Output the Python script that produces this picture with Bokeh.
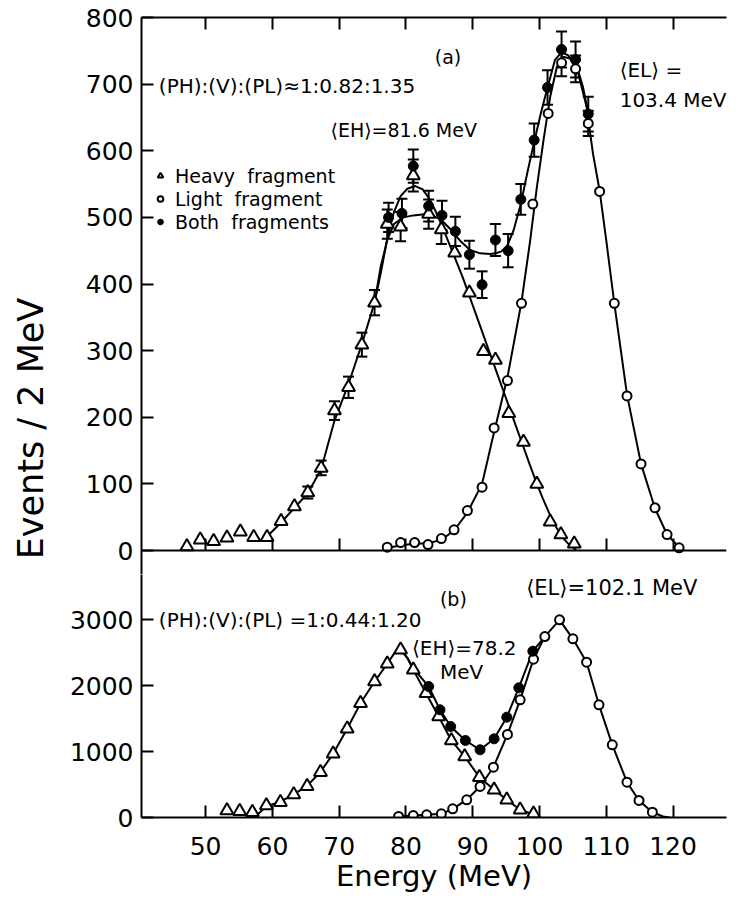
from bokeh.plotting import figure
from bokeh.layouts import row, column
from bokeh.models import (Range1d, FixedTicker, LinearAxis, Whisker, TeeHead,
                          ColumnDataSource, Legend, LegendItem, Label)
from bokeh.embed import file_html
from bokeh.resources import INLINE

FONT = "DejaVu Sans"

# ---------------- tick labels ----------------
x_ticks = [50, 60, 70, 80, 90, 100, 110, 120]
ya_ticks = [0, 100, 200, 300, 400, 500, 600, 700, 800]
yb_ticks = [0, 1000, 2000, 3000]

# ---------------- panel (a) data ----------------
a_heavy_E = [47.2, 49.2, 51.2, 53.2, 55.2, 57.2, 59.2, 61.3, 63.3, 65.3, 67.3, 69.3, 71.4, 73.4, 75.3,
             77.2, 79.2, 81.1, 83.4, 85.3, 87.3, 89.5, 91.6, 93.4, 95.4, 97.6, 99.6, 101.6, 103.2, 105.2]
a_heavy_N = [6, 16, 14, 19, 28, 20, 20, 44, 66, 87, 124, 210, 245, 309, 372,
             490, 486, 563, 505, 482, 447, 387, 299, 286, 206, 163, 100, 43, 24, 10]
a_heavy_err = [0, 0, 0, 0, 0, 0, 0, 0, 0, 9, 11, 14, 16, 18, 19,
               22, 22, 24, 22, 22, 0, 0, 0, 0, 0, 0, 0, 0, 0, 0]

a_light_E = [77.2, 79.2, 81.3, 83.3, 85.3, 87.2, 89.2, 91.4, 93.2, 95.2, 97.3, 99.0, 101.3, 103.3,
             105.4, 107.3, 109.0, 111.2, 113.1, 115.2, 117.3, 119.1, 120.9]
a_light_N = [5, 12, 12, 9, 18, 31, 60, 95, 184, 255, 371, 520, 656, 732,
             723, 641, 539, 371, 232, 130, 64, 24, 4]
a_light_err = [0, 0, 0, 0, 0, 0, 0, 0, 0, 0, 0, 0, 0, 20,
               20, 19, 0, 0, 0, 0, 0, 0, 0]

a_both_E = [77.4, 79.4, 81.1, 83.4, 85.4, 87.4, 89.5, 91.4, 93.4, 95.3, 97.2, 99.2, 101.2, 103.3, 105.4, 107.3]
a_both_N = [500, 506, 577, 517, 503, 479, 444, 399, 466, 450, 527, 616, 695, 752, 737, 655]
a_both_err = [22, 22, 25, 23, 22, 22, 21, 20, 24, 25, 23, 25, 26, 27, 27, 26]

a_heavy_fit_E = [59.1, 61.3, 63.3, 65.3, 67.3, 69.3, 71.4, 73.4, 75.3, 76.3, 77.2, 78.2, 79.2, 80.2, 81.4,
                 82.5, 83.5, 84.5, 85.5, 86.5, 87.5, 88.5, 89.5, 90.5, 91.5, 92.5, 93.5, 94.5, 95.5,
                 96.5, 97.5, 98.5, 99.5, 100.5, 101.5, 102.5, 103.5, 104.5, 105.5]
a_heavy_fit_N = [20, 42, 64, 86, 122, 195, 250, 310, 372, 420, 468, 508, 532, 543, 547,
                 542, 528, 508, 485, 460, 435, 410, 382, 354, 326, 298, 270, 242, 214,
                 186, 158, 130, 103, 78, 55, 35, 19, 8, 1]

a_both_fit_E = [75.3, 76.2, 77.2, 78.2, 79.6, 81.1, 83.1, 85.1, 86.6, 88.1, 89.6, 91.1, 92.6, 93.4,
                94.3, 95.1, 96.1, 97.2, 98.2, 99.2, 100.1, 101.1, 102.3, 103.3, 104.3, 105.6, 106.5, 107.3]
a_both_fit_N = [372, 425, 466, 490, 500, 503, 505, 498, 483, 465, 451, 446, 445, 446,
                449, 456, 480, 520, 568, 613, 652, 691, 736, 748, 743, 726, 696, 656]

a_light_fit_E = [77.0, 79.2, 81.3, 83.3, 85.3, 87.2, 89.2, 91.4, 93.2, 95.2, 97.3, 98.6, 99.6, 100.6,
                 101.6, 102.6, 103.6, 104.6, 105.8, 107.05, 108.0, 109.0, 110.0, 111.2, 113.1, 115.2,
                 117.3, 119.1, 120.9, 121.5]
a_light_fit_N = [3, 8, 10, 11, 16, 30, 57, 100, 178, 260, 373, 465, 545, 616,
                 681, 726, 741, 738, 716, 666, 596, 540, 465, 371, 234, 130,
                 63, 24, 5, 0]

# ---------------- panel (b) data ----------------
b_heavy_E = [53.2, 55.1, 57.0, 59.1, 61.2, 63.2, 65.2, 67.2, 69.1, 71.2, 73.2, 75.3, 77.2, 79.2,
             81.1, 83.0, 84.9, 86.8, 88.8, 91.0, 93.2, 95.1, 97.1, 99.1]
b_heavy_N = [106, 96, 80, 182, 232, 348, 474, 686, 965, 1344, 1732, 2060, 2329, 2540,
             2237, 1883, 1530, 1167, 924, 611, 420, 268, 117, 56]

b_light_E = [78.9, 81.1, 83.1, 85.3, 87.0, 89.1, 91.1, 93.1, 95.2, 97.1, 99.1, 100.8, 103.0, 105.0,
             107.05, 108.9, 110.9, 113.1, 114.9, 116.9]
b_light_N = [15, 30, 40, 56, 131, 268, 470, 762, 1258, 1783, 2399, 2742, 2995, 2707,
             2353, 1707, 1101, 535, 258, 80]

b_both_E = [83.4, 85.1, 86.7, 88.9, 91.1, 93.2, 95.1, 96.9, 99.0]
b_both_N = [1985, 1632, 1379, 1167, 1026, 1192, 1520, 1965, 2520]

b_heavy_fit_E = [57.5, 59.1, 61.2, 63.2, 65.2, 67.2, 69.1, 71.2, 73.2, 75.3, 77.2, 78.2, 79.2, 80.2,
                 81.1, 83.0, 84.9, 86.8, 88.8, 91.0, 93.2, 95.1, 97.1, 99.1, 100.2]
b_heavy_fit_N = [20, 170, 240, 350, 480, 690, 965, 1344, 1732, 2060, 2330, 2480, 2545, 2420,
                 2237, 1883, 1530, 1167, 924, 611, 420, 268, 117, 45, 0]

b_both_fit_E = [79.2, 80.2, 81.1, 83.4, 85.1, 86.7, 88.9, 91.1, 93.2, 95.1, 96.9, 99.0, 100.8]
b_both_fit_N = [2545, 2420, 2260, 1985, 1632, 1379, 1167, 1026, 1192, 1520, 1965, 2520, 2742]

b_light_fit_E = [78.5, 78.9, 81.1, 83.1, 85.3, 87.0, 89.1, 91.1, 93.1, 95.2, 97.1, 99.1, 100.8, 103.0,
                 105.0, 107.05, 108.9, 110.9, 113.1, 114.9, 116.9, 118.5, 119.5]
b_light_fit_N = [10, 15, 30, 40, 56, 131, 268, 470, 762, 1258, 1783, 2399, 2742, 2995,
                 2707, 2353, 1707, 1101, 535, 258, 80, 15, 0]

# ---------------- helpers ----------------
X_RANGE = (40.4, 128.0)


def style_axis(ax, show_labels=True):
    ax.axis_line_width = 2
    ax.axis_line_color = "black"
    ax.major_tick_line_width = 2
    ax.major_tick_line_color = "black"
    ax.major_tick_in = 12
    ax.major_tick_out = 0
    ax.minor_tick_line_color = None
    ax.major_label_text_font = FONT
    if show_labels:
        ax.major_label_text_font_size = "25px"
        ax.major_label_text_color = "black"
    else:
        ax.major_label_text_font_size = "1px"
        ax.major_label_text_color = None
        ax.major_label_standoff = 0


def add_errors(p, E, N, err):
    xs, lo, hi = [], [], []
    for e, n, s in zip(E, N, err):
        if s > 0:
            xs.append(e)
            lo.append(n - s)
            hi.append(n + s)
    src = ColumnDataSource(dict(x=xs, lower=lo, upper=hi))
    w = Whisker(base="x", lower="lower", upper="upper", source=src,
                line_color="black", line_width=2,
                upper_head=TeeHead(size=11, line_width=2, line_color="black"),
                lower_head=TeeHead(size=11, line_width=2, line_color="black"))
    p.add_layout(w)


def add_text(p, x, y, text, size="20px", align="left"):
    p.add_layout(Label(x=x, y=y, text=text, text_font=FONT, text_font_size=size,
                       text_color="black", text_align=align, text_baseline="middle"))


def base_fig(yr, frame_h, **kw):
    p = figure(frame_width=585, frame_height=frame_h,
               x_range=Range1d(*X_RANGE), y_range=Range1d(*yr),
               output_backend="svg", toolbar_location=None,
               x_axis_type=None, min_border_left=81, min_border_right=13, **kw)
    p.grid.visible = False
    p.outline_line_color = None
    p.background_fill_color = "white"
    p.border_fill_color = "white"
    return p


# ---------------- panel (a) ----------------
# frame reaches 36 units below zero so the "0" tick label stays inside this canvas;
# the separating line is an x axis fixed at y = 0.
pa = base_fig((-36, 800), 557, min_border_top=17, min_border_bottom=0)
style_axis(pa.yaxis[0])
pa.yaxis[0].ticker = FixedTicker(ticks=ya_ticks)
pa.yaxis[0].major_label_standoff = 8
ax_b = LinearAxis(ticker=FixedTicker(ticks=x_ticks), fixed_location=0)
style_axis(ax_b, show_labels=False)
pa.add_layout(ax_b, "below")
ax_t = LinearAxis(ticker=FixedTicker(ticks=x_ticks))
style_axis(ax_t, show_labels=False)
pa.add_layout(ax_t, "above")

pa.line(a_heavy_fit_E, a_heavy_fit_N, line_color="black", line_width=2)
pa.line(a_both_fit_E, a_both_fit_N, line_color="black", line_width=2)
pa.line(a_light_fit_E, a_light_fit_N, line_color="black", line_width=2)
add_errors(pa, a_heavy_E, a_heavy_N, a_heavy_err)
add_errors(pa, a_light_E, a_light_N, a_light_err)
add_errors(pa, a_both_E, a_both_N, a_both_err)
r_h = pa.scatter(a_heavy_E, a_heavy_N, marker="triangle", size=13, fill_color="white",
                 line_color="black", line_width=2)
r_l = pa.scatter(a_light_E, a_light_N, marker="circle", size=9, fill_color="white",
                 line_color="black", line_width=2)
r_b = pa.scatter(a_both_E, a_both_N, marker="circle", size=10, fill_color="black",
                 line_color="black", line_width=1)

leg = Legend(items=[LegendItem(label="Heavy  fragment", renderers=[r_h]),
                    LegendItem(label="Light  fragment", renderers=[r_l]),
                    LegendItem(label="Both  fragments", renderers=[r_b])],
             location=(12, 341), orientation="vertical",
             label_text_font=FONT, label_text_font_size="19px", label_text_color="black",
             glyph_width=14, glyph_height=23, label_height=23, label_standoff=8,
             spacing=0, padding=0, margin=0,
             border_line_color=None, background_fill_alpha=0)
pa.add_layout(leg)

add_text(pa, 86.3, 740, "(a)", size="19px", align="center")
add_text(pa, 43.0, 697, "(PH):(V):(PL)\u22481:0.82:1.35", size="20px")
add_text(pa, 112.0, 721, "\u27e8EL\u27e9 =", size="20px")
add_text(pa, 112.0, 676, "103.4 MeV", size="20px")
add_text(pa, 68.7, 631, "\u27e8EH\u27e9=81.6 MeV", size="19px")

# ---------------- panel (b) ----------------
pb = base_fig((0, 3682), 243, min_border_top=0, min_border_bottom=88)
style_axis(pb.yaxis[0])
pb.yaxis[0].ticker = FixedTicker(ticks=yb_ticks)
pb.yaxis[0].major_label_standoff = 8
ax_x = LinearAxis(ticker=FixedTicker(ticks=x_ticks), axis_label="Energy (MeV)")
style_axis(ax_x)
ax_x.major_label_standoff = 19
ax_x.axis_label_standoff = 1
ax_x.axis_label_text_font = FONT
ax_x.axis_label_text_font_size = "29px"
ax_x.axis_label_text_font_style = "normal"
ax_x.axis_label_text_color = "black"
pb.add_layout(ax_x, "below")

pb.line(b_heavy_fit_E, b_heavy_fit_N, line_color="black", line_width=2)
pb.line(b_both_fit_E, b_both_fit_N, line_color="black", line_width=2)
pb.line(b_light_fit_E, b_light_fit_N, line_color="black", line_width=2)
pb.scatter(b_heavy_E, b_heavy_N, marker="triangle", size=13, fill_color="white",
           line_color="black", line_width=2)
pb.scatter(b_light_E, b_light_N, marker="circle", size=9, fill_color="white",
           line_color="black", line_width=2)
pb.scatter(b_both_E, b_both_N, marker="circle", size=10, fill_color="black",
           line_color="black", line_width=1)

add_text(pb, 87.1, 3318, "(b)", size="19px", align="center")
add_text(pb, 43.0, 2985, "(PH):(V):(PL) =1:0.44:1.20", size="20px")
add_text(pb, 98.0, 3470, "\u27e8EL\u27e9=102.1 MeV", size="21px")
add_text(pb, 80.9, 2561, "\u27e8EH\u27e9=78.2", size="20px")
add_text(pb, 85.1, 2212, "MeV", size="20px")

# ---------------- y-axis title column ----------------
lab = figure(width=60, height=905, x_range=Range1d(0, 60), y_range=Range1d(905, 0),
             output_backend="svg", toolbar_location=None,
             x_axis_type=None, y_axis_type=None, min_border=0)
lab.grid.visible = False
lab.outline_line_color = None
lab.add_layout(Label(x=30, y=428, text="Events / 2 MeV", angle=90, angle_units="deg",
                     text_font=FONT, text_font_size="35px", text_color="black",
                     text_align="center", text_baseline="middle"))

layout = row(lab, column(pa, pb, spacing=0), spacing=0)

with open("out.html", "w") as f:
    f.write(file_html(layout, INLINE))
